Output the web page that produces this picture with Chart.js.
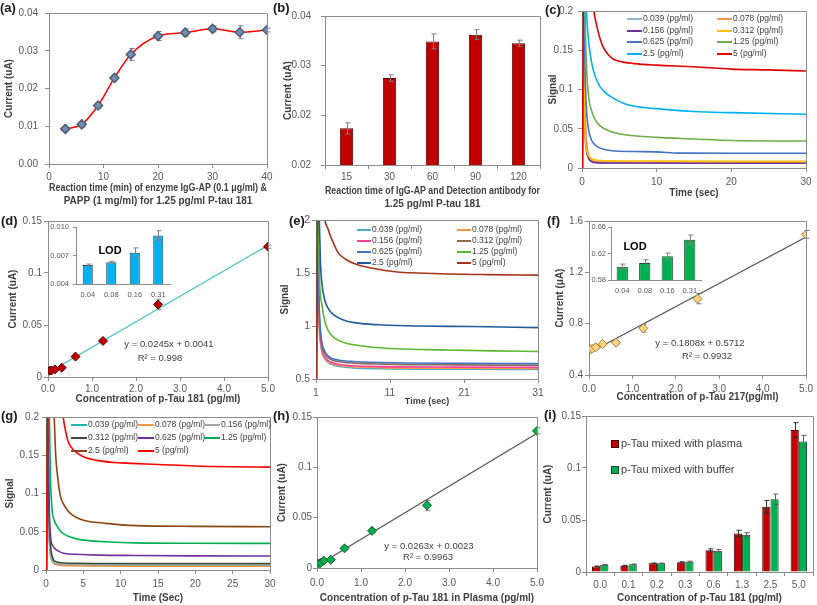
<!DOCTYPE html>
<html>
<head>
<meta charset="utf-8">
<script src="https://cdn.jsdelivr.net/npm/chart.js@4.4.1/dist/chart.umd.min.js"></script>
<style>
  body { margin: 0; background: #fff; width: 817px; height: 605px; position: relative; overflow: hidden; }
</style>
</head>
<body>
<script>
// ---- data ----

// (a) reaction time of enzyme IgG-AP & PAPP
const aTime = [3, 6, 9, 12, 15, 20, 25, 30, 35, 40];
const aCurrent = [0.0093, 0.0105, 0.0155, 0.0228, 0.0290, 0.0339, 0.0348, 0.0358, 0.0349, 0.0355];
const aError = [0.0006, 0.0007, 0.0007, 0.0009, 0.0016, 0.0012, 0.0010, 0.0008, 0.0017, 0.0005];
const aXTicks = [0, 10, 20, 30, 40];
const aYTicks = [0, 0.01, 0.02, 0.03, 0.04];

// (b) reaction time of IgG-AP and detection antibody
const bTime = ['15', '30', '60', '90', '120'];
const bCurrent = [0.0219, 0.0300, 0.0359, 0.0370, 0.0356];
const bError = [0.0009, 0.0005, 0.0012, 0.0008, 0.0005];
const bYTicks = [0.016, 0.024, 0.032, 0.04];

const seriesLabels = ['0.039 (pg/ml)', '0.078 (pg/ml)', '0.156 (pg/ml)', '0.312 (pg/ml)',
  '0.625 (pg/ml)', '1.25 (pg/ml)', '2.5 (pg/ml)', '5 (pg/ml)'];

// (c) signal vs time, [sec, signal]
const c039 = [[0.05, 0], [0.12, 0.3], [0.3, 0.1], [0.5, 0.04], [0.8, 0.016], [1.2, 0.009], [2, 0.0068], [4, 0.0062], [10, 0.006], [20, 0.006], [30, 0.006]];
const c078 = [[0.05, 0], [0.13, 0.3], [0.3, 0.12], [0.5, 0.05], [0.8, 0.02], [1.2, 0.011], [2, 0.008], [4, 0.0075], [10, 0.0072], [20, 0.007], [30, 0.007]];
const c156 = [[0.05, 0], [0.12, 0.3], [0.25, 0.1], [0.4, 0.045], [0.6, 0.022], [0.9, 0.012], [1.3, 0.008], [2, 0.0068], [5, 0.0063], [15, 0.006], [30, 0.006]];
const c312 = [[0.05, 0], [0.15, 0.3], [0.3, 0.09], [0.45, 0.038], [0.7, 0.02], [1, 0.014], [1.5, 0.011], [2.5, 0.0095], [5, 0.009], [10, 0.0088], [20, 0.0085], [30, 0.0085]];
const c625 = [[0.05, 0], [0.2, 0.3], [0.4, 0.13], [0.6, 0.075], [0.9, 0.048], [1.3, 0.035], [1.8, 0.029], [2.5, 0.025], [4, 0.022], [7, 0.021], [10, 0.0205], [13, 0.019], [20, 0.0188], [30, 0.0187]];
const c125 = [[0.05, 0], [0.25, 0.3], [0.4, 0.2], [0.6, 0.13], [0.9, 0.09], [1.3, 0.072], [2, 0.058], [3, 0.05], [4, 0.046], [6, 0.042], [10, 0.039], [15, 0.037], [20, 0.035], [30, 0.0344]];
const c25 = [[0.05, 0], [0.3, 0.3], [0.6, 0.2], [0.8, 0.17], [1.1, 0.145], [1.5, 0.125], [2.2, 0.107], [3, 0.097], [4, 0.09], [6, 0.081], [10, 0.0756], [15, 0.072], [20, 0.0705], [30, 0.0684]];
const c5 = [[0.05, 0], [0.3, 0.35], [1.6, 0.2], [2, 0.18], [2.5, 0.162], [3, 0.151], [4, 0.14], [5, 0.136], [7, 0.133], [10, 0.131], [15, 0.129], [20, 0.126], [25, 0.125], [30, 0.1236]];
const cXTicks = [0, 10, 20, 30];
const cYTicks = [0, 0.05, 0.1, 0.15, 0.2];

// (d) calibration p-Tau 181 in buffer
const dConc = [0.039, 0.078, 0.156, 0.3125, 0.625, 1.25, 2.5, 5];
const dCurrent = [0.0060, 0.0063, 0.0073, 0.0089, 0.0196, 0.0347, 0.0697, 0.1253];
const dError = [0.0003, 0.0003, 0.0005, 0.0008, 0.0010, 0.0015, 0.0050, 0.0015];
const dFitX = [0, 5];
const dFitY = [0.0041, 0.1266];
const dLodLabels = ['0.04', '0.08', '0.16', '0.31'];
const dLod = [0.0060, 0.0063, 0.0073, 0.0091];
const dLodError = [0.0001, 0.0001, 0.0005, 0.0005];
const dLodTicks = [0.004, 0.007, 0.010];
const calXTicks = [0, 1, 2, 3, 4, 5];

// (e) signal vs time
const e039 = [[1.05, 0.5], [1.15, 2.3], [1.4, 1.1], [1.7, 0.8], [2.2, 0.69], [3, 0.64], [4, 0.62], [6, 0.605], [10, 0.597], [20, 0.592], [31, 0.59]];
const e078 = [[1.05, 0.5], [1.15, 2.3], [1.4, 1.12], [1.7, 0.81], [2.2, 0.7], [3, 0.65], [4, 0.63], [6, 0.615], [10, 0.607], [20, 0.602], [31, 0.6]];
const e156 = [[1.05, 0.5], [1.15, 2.3], [1.4, 1.15], [1.7, 0.83], [2.2, 0.71], [3, 0.66], [4, 0.64], [6, 0.625], [10, 0.617], [20, 0.612], [31, 0.61]];
const e312 = [[1.05, 0.5], [1.15, 2.3], [1.4, 1.2], [1.7, 0.87], [2.2, 0.74], [3, 0.685], [4, 0.665], [6, 0.65], [10, 0.64], [20, 0.633], [31, 0.63]];
const e625 = [[1.05, 0.5], [1.15, 2.3], [1.4, 1.25], [1.7, 0.9], [2.2, 0.76], [3, 0.7], [4, 0.68], [6, 0.665], [10, 0.655], [20, 0.648], [31, 0.645]];
const e125 = [[1.05, 0.5], [1.2, 2.3], [1.5, 1.4], [1.8, 1.2], [2.2, 1.04], [2.7, 0.95], [3.5, 0.885], [5, 0.84], [8, 0.805], [12, 0.785], [18, 0.775], [25, 0.765], [31, 0.76]];
const e25 = [[1.05, 0.5], [1.25, 2.3], [1.45, 2.0], [1.6, 1.6], [1.8, 1.4], [2.2, 1.24], [2.7, 1.16], [3.5, 1.1], [5, 1.05], [7, 1.025], [10, 1.01], [15, 1.0], [22, 0.995], [31, 0.985]];
const e5 = [[1.05, 0.5], [1.3, 2.6], [2.2, 2.0], [2.6, 1.92], [3, 1.84], [3.5, 1.76], [4, 1.69], [5, 1.63], [6.5, 1.58], [9, 1.54], [12, 1.51], [17, 1.495], [24, 1.485], [31, 1.48]];
const eXTicks = [1, 11, 21, 31];
const eYTicks = [0.5, 1, 1.5, 2];

// (f) calibration p-Tau 217
const fCurrent = [0.600, 0.606, 0.616, 0.641, 0.652, 0.764, 0.995, 1.496];
const fError = [0.005, 0.005, 0.006, 0.007, 0.010, 0.030, 0.040, 0.030];
const fFitY = [0.5712, 1.4752];
const fYTicks = [0.4, 0.8, 1.2, 1.6];
const fLod = [0.600, 0.6057, 0.6157, 0.6409];
const fLodError = [0.004, 0.005, 0.005, 0.007];
const fLodTicks = [0.58, 0.62, 0.66];

// (g) signal vs time in plasma
const g039 = [[0.05, 0], [0.15, 0.3], [0.3, 0.09], [0.5, 0.03], [0.8, 0.012], [1.2, 0.008], [2, 0.0065], [4, 0.006], [10, 0.006], [30, 0.006]];
const g078 = [[0.05, 0], [0.15, 0.3], [0.3, 0.1], [0.5, 0.035], [0.8, 0.013], [1.2, 0.008], [2, 0.006], [4, 0.0055], [10, 0.005], [30, 0.005]];
const g156 = [[0.05, 0], [0.15, 0.3], [0.3, 0.1], [0.5, 0.035], [0.8, 0.014], [1.2, 0.009], [2, 0.0075], [4, 0.007], [10, 0.007], [30, 0.007]];
const g312 = [[0.05, 0], [0.15, 0.3], [0.35, 0.1], [0.6, 0.035], [0.9, 0.016], [1.3, 0.011], [2, 0.0095], [4, 0.0088], [10, 0.0085], [30, 0.0085]];
const g625 = [[0.05, 0], [0.2, 0.3], [0.4, 0.1], [0.6, 0.045], [0.9, 0.032], [1.3, 0.027], [1.8, 0.024], [2.5, 0.0215], [4, 0.0205], [7, 0.0195], [12, 0.019], [20, 0.0185], [30, 0.0183]];
const g125 = [[0.05, 0], [0.25, 0.3], [0.45, 0.2], [0.6, 0.12], [0.8, 0.08], [1.1, 0.065], [1.5, 0.057], [2, 0.05], [3, 0.044], [4, 0.041], [5, 0.039], [8, 0.037], [12, 0.0355], [20, 0.035], [30, 0.0348]];
const g25 = [[0.05, 0], [0.4, 0.35], [1.1, 0.2], [1.3, 0.15], [1.5, 0.127], [1.9, 0.098], [2.3, 0.087], [2.8, 0.079], [3.5, 0.072], [5, 0.065], [8, 0.061], [12, 0.058], [20, 0.057], [30, 0.0565]];
const g5 = [[0.05, 0], [0.5, 0.4], [2.3, 0.2], [2.7, 0.178], [3, 0.167], [3.5, 0.159], [4, 0.154], [5, 0.148], [7, 0.143], [10, 0.14], [15, 0.138], [20, 0.136], [25, 0.135], [30, 0.1345]];
const gXTicks = [0, 5, 10, 15, 20, 25, 30];

// (h) calibration in plasma
const hCurrent = [0.0046, 0.0049, 0.0073, 0.0082, 0.0195, 0.0369, 0.0623, 0.1362];
const hError = [0.0005, 0.0005, 0.0005, 0.0008, 0.0010, 0.0015, 0.0050, 0.0030];
const hFitY = [0.0023, 0.1338];
const currentTicks = [0, 0.05, 0.1, 0.15];

// (i) plasma vs buffer
const iConc = ['0.0', '0.1', '0.2', '0.3', '0.6', '1.3', '2.5', '5.0'];
const iPlasma = [0.0054, 0.0061, 0.0083, 0.0093, 0.0208, 0.0371, 0.0627, 0.1366];
const iBuffer = [0.0070, 0.0074, 0.0083, 0.0099, 0.0205, 0.0358, 0.0700, 0.1254];
const iPlasmaError = [0.0003, 0.0003, 0.0003, 0.0005, 0.0015, 0.0030, 0.0060, 0.0070];
const iBufferError = [0.0003, 0.0003, 0.0003, 0.0005, 0.0012, 0.0020, 0.0050, 0.0060];

// ---- drawing ----
const FONT = "'Liberation Sans', Arial, sans-serif";
const AX = '#8c8c8c', TICK = '#595959', TITLE = '#404040';
Chart.defaults.font.family = FONT;
Chart.defaults.font.size = 10;
Chart.defaults.color = TICK;

function axis(o, which, size) {
  const tl = o.tl === undefined ? 4 : o.tl;
  const s = {
    type: o.type || 'linear',
    min: o.min, max: o.max,
    offset: o.type === 'category',
    border: { display: true, color: AX },
    grid: { display: true, drawOnChartArea: false, drawTicks: tl > 0, tickLength: tl, color: AX },
    ticks: { padding: o.pad === undefined ? 2 : o.pad, font: { size: o.fs || 10 }, color: TICK, maxRotation: 0, autoSkip: false },
    title: { display: false },
    afterFit: sc => { if (which === 'x') sc.height = size; else sc.width = size; }
  };
  if (o.title) {
    s.title = { display: true, text: o.title, color: TITLE,
      font: { size: o.tfs || 10, weight: 'bold', lineHeight: 1.3 },
      padding: { top: o.tp || 0, bottom: o.tpb === undefined ? 1 : o.tpb } };
  }
  if (o.at) s.afterBuildTicks = sc => { sc.ticks = o.at.map(v => ({ value: v })); };
  if (o.fmt) s.ticks.callback = o.fmt;
  return s;
}

function drawErrors(chart, behind) {
  const ctx = chart.ctx;
  chart.data.datasets.forEach((ds, i) => {
    if (!ds.errors || !!ds.errorsBehind !== behind) return;
    const meta = chart.getDatasetMeta(i);
    const ys = chart.scales[meta.yAxisID];
    ctx.save();
    ctx.strokeStyle = ds.errorColor || '#7f7f7f';
    ctx.lineWidth = 1;
    meta.data.forEach((el, j) => {
      const raw = ds.data[j];
      const v = typeof raw === 'object' ? raw.y : raw;
      const e = ds.errors[j];
      const x = Math.round(el.x) + 0.5;
      const t = ys.getPixelForValue(v + e), b = ys.getPixelForValue(v - e);
      ctx.beginPath();
      ctx.moveTo(x, t); ctx.lineTo(x, b);
      ctx.moveTo(x - 2, t); ctx.lineTo(x + 3, t);
      ctx.moveTo(x - 2, b); ctx.lineTo(x + 3, b);
      ctx.stroke();
    });
    ctx.restore();
  });
}

function overlay(p) {
  const bl = p.box[0], bt = p.box[1];
  return {
    id: 'overlay',
    beforeDatasetsDraw(chart) { drawErrors(chart, true); },
    afterDatasetsDraw(chart) {
      drawErrors(chart, false);
      const ctx = chart.ctx;
      const a = chart.chartArea;
      if (p.frame !== false) {
        const al = v => Math.round(v - 0.5) + 0.5;
        ctx.save();
        ctx.strokeStyle = AX; ctx.lineWidth = 1;
        ctx.beginPath();
        ctx.moveTo(al(a.left), al(a.top)); ctx.lineTo(al(a.right), al(a.top)); ctx.lineTo(al(a.right), al(a.bottom));
        ctx.stroke();
        ctx.restore();
      }
      if (p.key) {
        const k = p.key;
        ctx.save();
        ctx.font = (k.s || 8.5) + 'px ' + FONT;
        ctx.textBaseline = 'middle'; ctx.textAlign = 'left';
        k.items.forEach(([d, x, y]) => {
          const ds = chart.data.datasets[d];
          const px = x - bl, py = y - bt;
          if (k.kind === 'box') {
            ctx.fillStyle = ds.backgroundColor;
            ctx.fillRect(px, py - 4, 8, 8);
            ctx.strokeStyle = ds.borderColor; ctx.lineWidth = 1;
            ctx.strokeRect(px + 0.5, py - 3.5, 7, 7);
            ctx.fillStyle = TITLE;
            ctx.fillText(ds.label, px + 10, py);
          } else {
            ctx.strokeStyle = ds.borderColor; ctx.lineWidth = 2;
            ctx.beginPath(); ctx.moveTo(px, py); ctx.lineTo(px + k.w, py); ctx.stroke();
            ctx.fillStyle = TITLE;
            ctx.fillText(ds.label, px + k.w + 1, py);
          }
        });
        ctx.restore();
      }
      (p.notes || []).forEach(n => {
        ctx.save();
        ctx.font = (n.b ? 'bold ' : '') + (n.s || 9.5) + 'px ' + FONT;
        ctx.fillStyle = n.c || TITLE;
        ctx.textAlign = n.a || 'center';
        ctx.textBaseline = 'middle';
        ctx.fillText(n.t, n.x - bl, n.y - bt);
        ctx.restore();
      });
    }
  };
}

function panel(p) {
  const [bl, bt, bw, bh] = p.box, [al, at, ar, ab] = p.area;
  const canvas = document.createElement('canvas');
  canvas.width = bw; canvas.height = bh;
  canvas.style.cssText = `position:absolute;left:${bl}px;top:${bt}px;width:${bw}px;height:${bh}px`;
  document.body.appendChild(canvas);
  return new Chart(canvas, {
    type: p.type,
    data: p.data,
    options: {
      responsive: false, animation: false, devicePixelRatio: 1,
      layout: { padding: { left: 0, bottom: 0, top: at - bt, right: bl + bw - ar } },
      scales: { x: axis(p.x, 'x', bt + bh - ab), y: axis(p.y, 'y', al - bl) },
      plugins: { legend: { display: false }, tooltip: { enabled: false } }
    },
    plugins: [overlay(p)]
  });
}

function curves(series, colors) {
  return series.map((s, i) => ({
    label: seriesLabels[i],
    data: s.map(q => ({ x: q[0], y: q[1] })),
    showLine: true, borderColor: colors[i], backgroundColor: colors[i],
    borderWidth: 1.6, pointRadius: 0, cubicInterpolationMode: 'monotone',
    order: series.length - i
  }));
}

function markers(xs, ys, errs, fill, edge) {
  return {
    data: xs.map((x, i) => ({ x: x, y: ys[i] })),
    pointStyle: 'rectRot', pointRadius: 4.5,
    pointBackgroundColor: fill, pointBorderColor: edge, pointBorderWidth: 1,
    errors: errs, errorsBehind: true, order: 0
  };
}

function fitLine(ys, color) {
  return {
    data: dFitX.map((x, i) => ({ x: x, y: ys[i] })),
    showLine: true, borderColor: color, borderWidth: 1.2, pointRadius: 0, order: 1
  };
}

const fix1 = v => v.toFixed(1);
const fix2 = v => v.toFixed(2);
const plain = v => String(v);
const LBL = { s: 13, b: true, a: 'left', c: '#1a1a1a' };

// (a)
panel({
  box: [0, 0, 280, 209], area: [49, 7, 267, 164], type: 'scatter',
  data: { datasets: [{
    data: aTime.map((t, i) => ({ x: t, y: aCurrent[i] })),
    showLine: true, borderColor: '#ff0000', borderWidth: 1.5, cubicInterpolationMode: 'monotone',
    pointStyle: 'rectRot', pointRadius: 4.5, pointBackgroundColor: '#6f8db5', pointBorderColor: '#4d5d75',
    errors: aError, errorsBehind: true
  }] },
  x: { min: 0, max: 40, at: aXTicks, pad: 3,
    title: ['Reaction time (min) of enzyme IgG-AP (0.1 μg/ml) &', 'PAPP (1 mg/ml) for 1.25 pg/ml P-tau 181'] },
  y: { min: 0, max: 0.04, at: aYTicks, fmt: fix2, pad: 7, title: 'Current (uA)', tp: 2.5 },
  notes: [Object.assign({ t: '(a)', x: 0, y: 8 }, LBL)]
});

// (b)
panel({
  box: [272, 0, 278, 212], area: [325, 7, 540, 165], type: 'bar',
  data: { labels: bTime, datasets: [{
    data: bCurrent, backgroundColor: '#c00000', borderColor: '#5a0000', borderWidth: 1,
    barPercentage: 0.31, categoryPercentage: 1, errors: bError
  }] },
  x: { type: 'category', pad: 2,
    title: ['Reaction time of IgG-AP and Detection antibody for', '1.25 pg/ml P-tau 181'] },
  y: { min: 0.016, max: 0.04, at: bYTicks, fmt: fix2, pad: 10, title: 'Current (uA)', tp: 9.5 },
  notes: [Object.assign({ t: '(b)', x: 273, y: 8 }, LBL)]
});

// (c)
const cColors = ['#8fb4d8', '#f79646', '#7030a0', '#ffc000', '#4472c4', '#70ad47', '#00b0f0', '#e00000'];
panel({
  box: [545, 0, 272, 201], area: [582, 11, 806, 168], type: 'scatter',
  data: { datasets: curves([c039, c078, c156, c312, c625, c125, c25, c5], cColors) },
  x: { min: 0, max: 30, at: cXTicks, pad: 4, title: 'Time (sec)' },
  y: { min: 0, max: 0.2, at: cYTicks, fmt: plain, pad: 5, title: 'Signal', tp: 1.5 },
  key: { kind: 'line', w: 15, s: 8.5, items: [[0, 627, 19], [1, 717, 19], [2, 627, 31], [3, 717, 31],
    [4, 627, 42], [5, 717, 42], [6, 627, 54], [7, 717, 54]] },
  notes: [Object.assign({ t: '(c)', x: 545, y: 10 }, LBL)]
});

// (d)
panel({
  box: [0, 208, 280, 199], area: [48, 221, 268, 377], type: 'scatter',
  data: { datasets: [markers(dConc, dCurrent, dError, '#c00000', '#5a0000'), fitLine(dFitY, '#4cc3c3')] },
  x: { min: 0, max: 5, at: calXTicks, fmt: fix1, pad: 2, title: 'Concentration of p-Tau 181 (pg/ml)' },
  y: { min: 0, max: 0.15, at: currentTicks, fmt: plain, pad: 2, title: 'Current (uA)', tp: 6.5 },
  notes: [Object.assign({ t: '(d)', x: 1, y: 221 }, LBL),
    { t: 'y = 0.0245x + 0.0041', x: 169, y: 344 }, { t: 'R² = 0.998', x: 160, y: 358 }]
});
panel({
  box: [40, 214, 140, 90], area: [76, 227, 170, 284], type: 'bar', frame: false,
  data: { labels: dLodLabels, datasets: [{
    data: dLod, backgroundColor: '#00b0f0', borderColor: '#20405a', borderWidth: 1,
    barPercentage: 0.43, categoryPercentage: 1, errors: dLodError
  }] },
  x: { type: 'category', tl: 0, pad: 6, fs: 7.5 },
  y: { min: 0.004, max: 0.010, at: dLodTicks, fmt: v => v.toFixed(3), tl: 3, pad: 4, fs: 7.5 },
  notes: [{ t: 'LOD', x: 110, y: 251, s: 11, b: true, c: '#000' }]
});

// (e)
const eColors = ['#4bacc6', '#f79646', '#ff3fa0', '#8c6d4f', '#4472c4', '#5cb82e', '#1f5c99', '#a5341a'];
panel({
  box: [272, 208, 278, 200], area: [316, 220, 538, 379], type: 'scatter',
  data: { datasets: curves([e039, e078, e156, e312, e625, e125, e25, e5], eColors) },
  x: { min: 1, max: 31, at: eXTicks, pad: 4, fs: 10.5, title: 'Time (sec)', tfs: 9 },
  y: { min: 0.5, max: 2, at: eYTicks, fmt: plain, pad: 2, fs: 10.5, title: 'Signal', tp: 6.5 },
  key: { kind: 'line', w: 14, s: 8.5, items: [[0, 357, 230], [1, 457, 230], [2, 357, 241], [3, 457, 241],
    [4, 357, 252], [5, 457, 252], [6, 357, 263], [7, 457, 263]] },
  notes: [Object.assign({ t: '(e)', x: 289, y: 221 }, LBL)]
});

// (f)
panel({
  box: [545, 208, 272, 197], area: [589, 221, 809, 375], type: 'scatter',
  data: { datasets: [markers(dConc, fCurrent, fError, '#ffd27f', '#a08040'), fitLine(fFitY, '#595959')] },
  x: { min: 0, max: 5, at: calXTicks, fmt: fix1, pad: 4, title: 'Concentration of p-Tau 217(pg/ml)' },
  y: { min: 0.4, max: 1.6, at: fYTicks, fmt: fix1, pad: 2, title: 'Current (μA)', tp: 8.5 },
  notes: [Object.assign({ t: '(f)', x: 547, y: 221 }, LBL),
    { t: 'y = 0.1808x + 0.5712', x: 700, y: 343 }, { t: 'R² = 0.9932', x: 707, y: 356 }]
});
panel({
  box: [580, 214, 130, 85], area: [611, 227, 701, 280], type: 'bar', frame: false,
  data: { labels: dLodLabels, datasets: [{
    data: fLod, backgroundColor: '#00b050', borderColor: '#1e4a2a', borderWidth: 1,
    barPercentage: 0.5, categoryPercentage: 1, errors: fLodError
  }] },
  x: { type: 'category', tl: 0, pad: 6, fs: 7.5 },
  y: { min: 0.58, max: 0.66, at: fLodTicks, fmt: fix2, tl: 3, pad: 2, fs: 7.5 },
  notes: [{ t: 'LOD', x: 635, y: 247, s: 11, b: true, c: '#000' }]
});

// (g)
const gColors = ['#1fb5a8', '#f79646', '#a6a6a6', '#384f3a', '#7030a0', '#00b050', '#8b4513', '#ff0000'];
panel({
  box: [0, 405, 280, 200], area: [46, 417, 270, 570], type: 'scatter',
  data: { datasets: curves([g039, g078, g156, g312, g625, g125, g25, g5], gColors) },
  x: { min: 0, max: 30, at: gXTicks, pad: 4, title: 'Time (Sec)', tpb: 0 },
  y: { min: 0, max: 0.2, at: cYTicks, fmt: plain, pad: 3, title: 'Signal', tp: 3.5 },
  key: { kind: 'line', w: 16, s: 8.5, items: [[0, 71, 425], [1, 138, 425], [2, 204, 425],
    [3, 71, 438], [4, 138, 438], [5, 204, 438], [6, 71, 451], [7, 138, 451]] },
  notes: [Object.assign({ t: '(g)', x: 1, y: 416 }, LBL)]
});

// (h)
panel({
  box: [272, 405, 278, 200], area: [317, 417, 537, 568], type: 'scatter',
  data: { datasets: [markers(dConc, hCurrent, hError, '#00b050', '#1a5a2a'), fitLine(hFitY, '#595959')] },
  x: { min: 0, max: 5, at: calXTicks, fmt: fix1, pad: 5, title: 'Concentration of p-Tau 181 in Plasma (pg/ml)', tpb: 0 },
  y: { min: 0, max: 0.15, at: currentTicks, fmt: plain, pad: 1, title: 'Current (uA)', tp: 3.5 },
  notes: [Object.assign({ t: '(h)', x: 273, y: 416 }, LBL),
    { t: 'y = 0.0263x + 0.0023', x: 429, y: 546 }, { t: 'R² = 0.9963', x: 428, y: 557 }]
});

// (i)
panel({
  box: [541, 405, 276, 200], area: [586, 416, 813, 572], type: 'bar',
  data: { labels: iConc, datasets: [
    { label: 'p-Tau mixed with plasma', data: iPlasma, backgroundColor: '#c00000', borderColor: '#4a0000',
      borderWidth: 1, barPercentage: 1, categoryPercentage: 0.58, errors: iPlasmaError, errorColor: '#303030' },
    { label: 'p-Tau mixed with buffer', data: iBuffer, backgroundColor: '#00b050', borderColor: '#1a4a2a',
      borderWidth: 1, barPercentage: 1, categoryPercentage: 0.58, errors: iBufferError, errorColor: '#606060' }
  ] },
  x: { type: 'category', pad: 3, title: 'Concentration of p-Tau 181 (pg/ml)', tpb: 0 },
  y: { min: 0, max: 0.15, at: currentTicks, fmt: plain, pad: 1, title: 'Current (uA)', tp: 0.5 },
  key: { kind: 'box', s: 11, items: [[0, 611, 444], [1, 611, 470]] },
  notes: [Object.assign({ t: '(i)', x: 544, y: 415 }, LBL)]
});
</script>
</body>
</html>
